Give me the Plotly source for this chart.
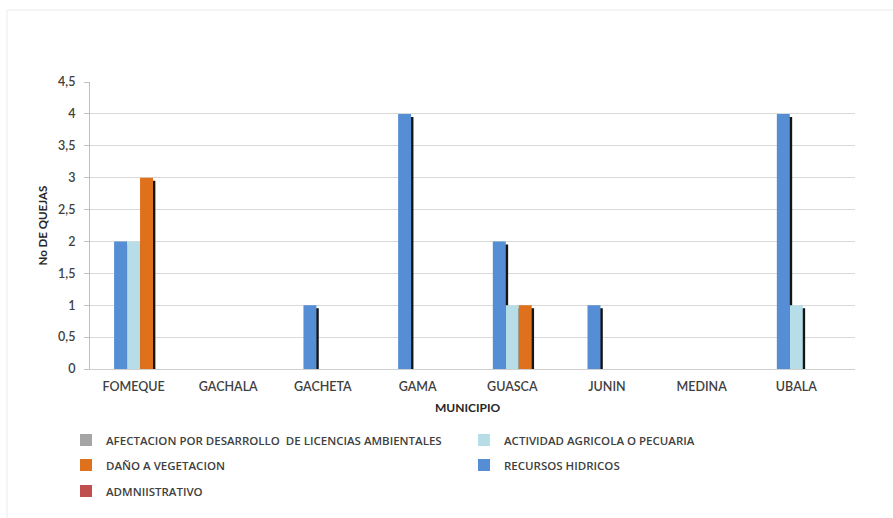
import plotly.graph_objects as go
import numpy as np

municipios = ["FOMEQUE", "GACHALA", "GACHETA", "GAMA", "GUASCA", "JUNIN", "MEDINA", "UBALA"]
afectacion = [0, 0, 0, 0, 0, 0, 0, 0]
recursos_hidricos = [2, 0, 1, 4, 2, 1, 0, 4]
actividad_agricola = [2, 0, 0, 0, 1, 0, 0, 1]
dano_vegetacion = [3, 0, 0, 0, 1, 0, 0, 0]
administrativo = [0, 0, 0, 0, 0, 0, 0, 0]
y_ticks = [0, 0.5, 1, 1.5, 2, 2.5, 3, 3.5, 4, 4.5]

W, H = 893, 518
ML, MR, MT, MB = 90, 38, 82, 149
PW, PH = W - ML - MR, H - MT - MB
XR = [-0.46, 7.62]
YR = [0, 4.5]
px_x = PW / (XR[1] - XR[0])
px_y = PH / (YR[1] - YR[0])

bw = 0.137
# name, values, colour, legend id
series = [
    ("AFECTACION POR DESARROLLO  DE LICENCIAS AMBIENTALES", afectacion, "#A5A5A5", "legend"),
    ("RECURSOS HIDRICOS", recursos_hidricos, "#558ED5", "legend4"),
    ("ACTIVIDAD AGRICOLA O PECUARIA", actividad_agricola, "#B7DEE8", "legend2"),
    ("DAÑO A VEGETACION", dano_vegetacion, "#E0711C", "legend3"),
    ("ADMNIISTRATIVO", administrativo, "#C0504D", "legend5"),
]

fig = go.Figure()
sh_dx = 3 / px_x
sh_dy = 3 / px_y
for k, (name, vals, color, lg) in enumerate(series):
    off = -2.5 * bw + k * bw
    v = np.array(vals, dtype=float)
    sv = np.where(v > 0, np.maximum(v - sh_dy, 0), 0)
    fig.add_trace(go.Bar(
        x=municipios, y=sv, offset=off + sh_dx, width=bw * 0.95,
        marker=dict(color="#151515", line=dict(width=0)),
        showlegend=False, hoverinfo="skip"))
    fig.add_trace(go.Bar(
        x=municipios, y=v, offset=off, width=bw, name=name,
        marker=dict(color=color, line=dict(width=0)),
        legend=lg))

font_fam = "Lato, 'Open Sans', sans-serif"
txt = "#404040"

def py(ypx):
    return (H - MB - ypx) / PH

def pxp(xpx):
    return (xpx - ML) / PW

leg_common = dict(orientation="h", xanchor="left", yanchor="middle",
                  font=dict(family="'Open Sans', sans-serif", size=11.5,
                            color=txt, weight=600),
                  bgcolor="rgba(0,0,0,0)", itemclick=False)
c1, c2 = 66, 464
r1, r2, r3 = 440, 465, 491
fig.update_layout(
    width=W, height=H,
    margin=dict(l=ML, r=MR, t=MT, b=MB),
    paper_bgcolor="white", plot_bgcolor="white",
    barmode="overlay",
    separators=", ",
    font=dict(family=font_fam, size=12, color=txt),
    legend=dict(x=pxp(c1), y=py(r1), **leg_common),
    legend2=dict(x=pxp(c2), y=py(r1), **leg_common),
    legend3=dict(x=pxp(c1), y=py(r2), **leg_common),
    legend4=dict(x=pxp(c2), y=py(r2), **leg_common),
    legend5=dict(x=pxp(c1), y=py(r3), **leg_common),
    xaxis=dict(range=XR, showgrid=False, showline=True, linecolor="#D0D0D0",
               ticks="", tickfont=dict(size=12.5, color=txt, weight=600),
               ticklabelstandoff=6, zeroline=False),
    yaxis=dict(range=YR, tickvals=y_ticks, showgrid=True, gridcolor="#D9D9D9",
               gridwidth=1, showline=True, linecolor="#C0C0C0", ticks="outside",
               ticklen=5, tickcolor="#C0C0C0",
               tickfont=dict(size=12.5, color=txt, weight=600),
               ticklabelstandoff=6, zeroline=False),
    annotations=[
        dict(text="<b>No DE QUEJAS</b>", xref="paper", yref="paper",
             x=pxp(42), y=0.5, xanchor="center", yanchor="middle",
             textangle=-90, showarrow=False,
             font=dict(size=11.5, color="#262626")),
        dict(text="<b>MUNICIPIO</b>", xref="paper", yref="paper",
             x=pxp(468), y=py(407), xanchor="center", yanchor="middle",
             showarrow=False, font=dict(size=12, color="#262626")),
    ],
    shapes=[
        dict(type="rect", xref="paper", yref="paper",
             x0=pxp(7), x1=pxp(W + 10), y0=py(H + 10), y1=py(10),
             line=dict(color="#EBEBEB", width=1), layer="below"),
    ],
)

fig.write_html("out.html")
